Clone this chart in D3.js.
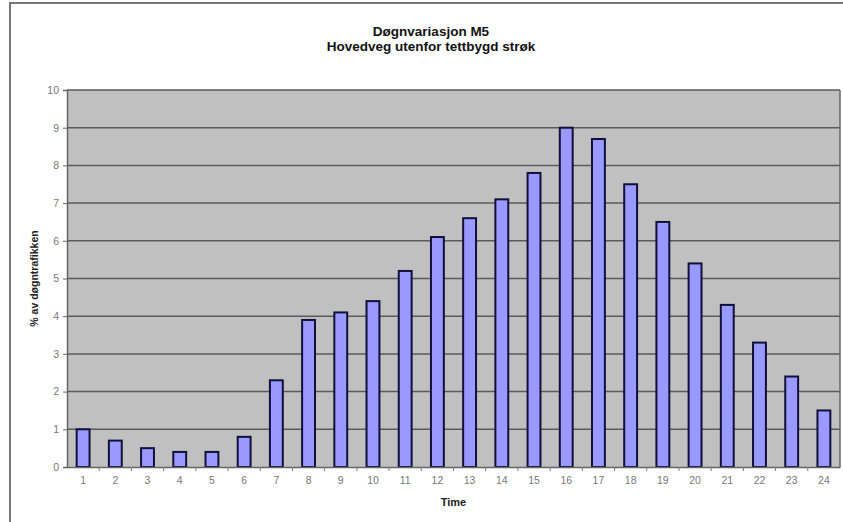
<!DOCTYPE html>
<html>
<head>
<meta charset="utf-8">
<script src="https://cdn.jsdelivr.net/npm/d3@7"></script>
<style>
  body { margin: 0; background: #fff; }
  svg { display: block; font-family: "Liberation Sans", Arial, sans-serif; }
</style>
</head>
<body>
<div id="chart"></div>
<script>
// hourly traffic share, % of daily traffic
var hours = ["1","2","3","4","5","6","7","8","9","10","11","12","13","14","15","16","17","18","19","20","21","22","23","24"];
var shares = [1.0, 0.7, 0.5, 0.4, 0.4, 0.8, 2.3, 3.9, 4.1, 4.4, 5.2, 6.1, 6.6, 7.1, 7.8, 9.0, 8.7, 7.5, 6.5, 5.4, 4.3, 3.3, 2.4, 1.5];
var yTicks = [0,1,2,3,4,5,6,7,8,9,10];
var titleLines = ["Døgnvariasjon M5", "Hovedveg utenfor tettbygd strøk"];

var W = 843, H = 522;
var margin = {top: 90, right: 3, bottom: 55, left: 67};
var width = W - margin.left - margin.right,
    height = H - margin.top - margin.bottom;

var svg = d3.select("#chart").append("svg")
    .attr("width", W)
    .attr("height", H);

// outer chart frame (cropped at right/bottom)
svg.append("rect")
    .attr("x", 10).attr("y", 3)
    .attr("width", W + 10).attr("height", H + 10)
    .attr("fill", "none")
    .attr("stroke", "#777")
    .attr("stroke-width", 2);

var g = svg.append("g")
    .attr("transform", "translate(" + margin.left + "," + margin.top + ")");

var x = d3.scaleBand().domain(hours).range([0, width]).paddingInner(0.6).paddingOuter(0.3);
var xBand = d3.scaleBand().domain(hours).range([0, width]);
var y = d3.scaleLinear().domain([0, 10]).range([height, 0]);

// plot background
g.append("rect")
    .attr("width", width).attr("height", height)
    .attr("fill", "#c0c0c0");

// gridlines
g.selectAll(".grid")
    .data(yTicks.slice(1))
    .enter().append("line")
    .attr("x1", 0).attr("x2", width)
    .attr("y1", function(d){ return y(d); })
    .attr("y2", function(d){ return y(d); })
    .attr("stroke", "#5a5a5a")
    .attr("stroke-width", 1.5);

// right edge of plot area
g.append("line")
    .attr("x1", width).attr("x2", width)
    .attr("y1", 0).attr("y2", height)
    .attr("stroke", "#666").attr("stroke-width", 1.5);

// bars
g.selectAll(".bar")
    .data(shares)
    .enter().append("rect")
    .attr("x", function(d, i){ return x(hours[i]); })
    .attr("y", function(d){ return y(d); })
    .attr("width", x.bandwidth())
    .attr("height", function(d){ return height - y(d); })
    .attr("fill", "#9999ff")
    .attr("stroke", "#10103a")
    .attr("stroke-width", 2);

// y axis
var yAxis = g.append("g")
    .call(d3.axisLeft(y).tickValues(yTicks).tickSize(4).tickPadding(4));
yAxis.select(".domain").attr("stroke", "#666").attr("stroke-width", 1.5);
yAxis.selectAll(".tick line").attr("stroke", "#666");
yAxis.selectAll("text").attr("fill", "#777").style("font-size", "10.5px");

// x axis, ticks sit between categories
var xAxis = g.append("g")
    .attr("transform", "translate(0," + height + ")")
    .call(d3.axisBottom(xBand).tickSize(0).tickPadding(10));
xAxis.select(".domain").attr("stroke", "#666").attr("stroke-width", 1.5);
xAxis.selectAll("text").attr("fill", "#777").style("font-size", "10.5px");
g.append("g")
    .selectAll("line")
    .data(hours.slice(1))
    .enter().append("line")
    .attr("x1", function(d){ return xBand(d); })
    .attr("x2", function(d){ return xBand(d); })
    .attr("y1", height).attr("y2", height + 4)
    .attr("stroke", "#777");

// title, centred on the chart area
svg.append("g").selectAll("text")
    .data(titleLines)
    .enter().append("text")
    .attr("x", 431)
    .attr("y", function(d, i){ return 36 + i * 15; })
    .attr("text-anchor", "middle")
    .style("font-size", "13.5px")
    .style("font-weight", "bold")
    .attr("fill", "#111")
    .text(function(d){ return d; });

// axis titles
svg.append("text")
    .attr("x", margin.left + width / 2)
    .attr("y", 506)
    .attr("text-anchor", "middle")
    .style("font-size", "11px")
    .style("font-weight", "bold")
    .attr("fill", "#222")
    .text("Time");

svg.append("text")
    .attr("transform", "translate(38," + (margin.top + height / 2) + ") rotate(-90)")
    .attr("text-anchor", "middle")
    .style("font-size", "10.5px")
    .style("font-weight", "bold")
    .attr("fill", "#222")
    .text("% av døgntrafikken");
</script>
</body>
</html>
